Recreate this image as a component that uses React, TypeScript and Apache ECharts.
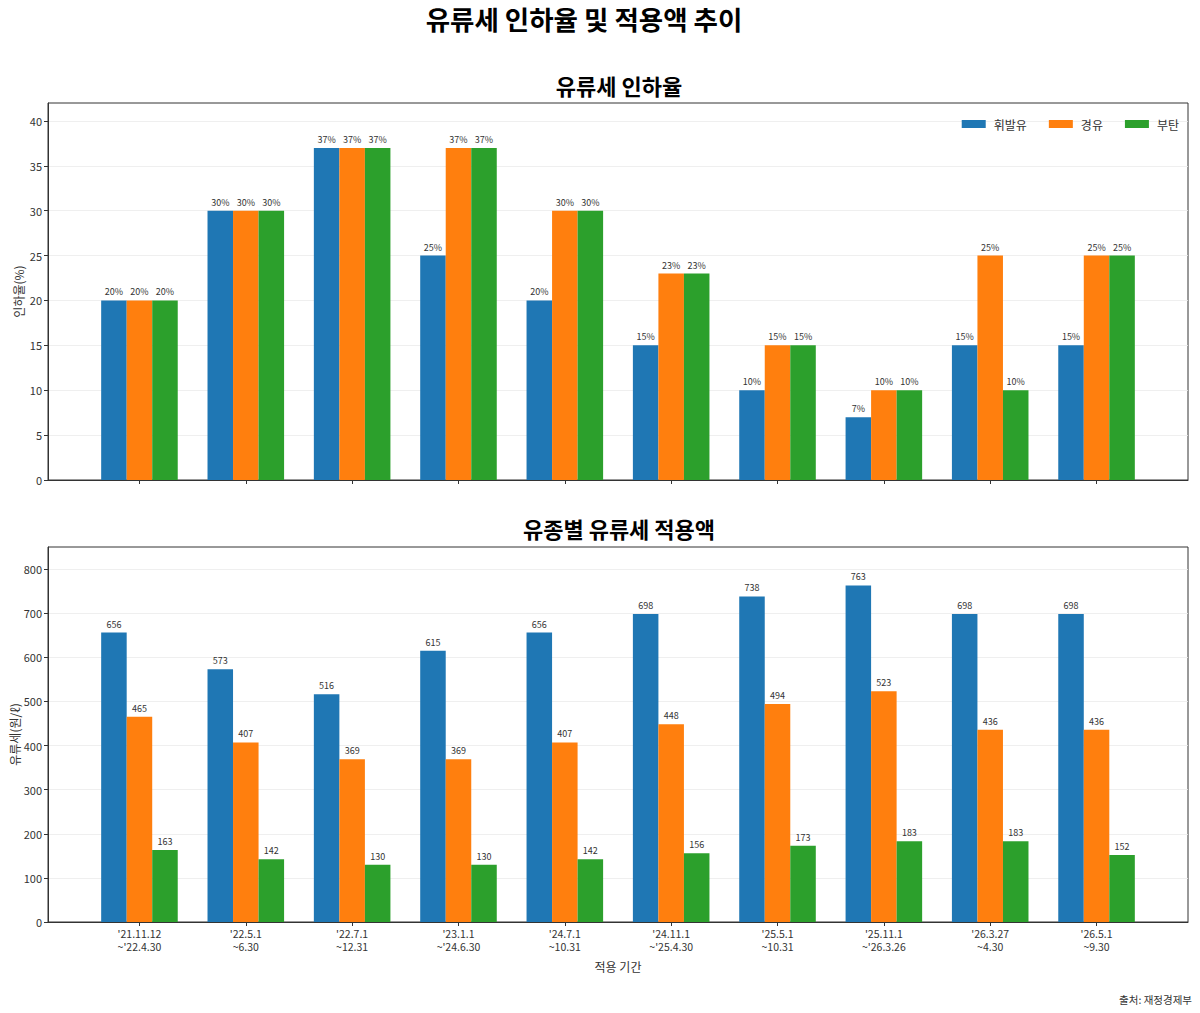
import React, { useEffect, useRef } from "react";
import * as echarts from "echarts";

const periods = [
  "'21.11.12\n~'22.4.30",
  "'22.5.1\n~6.30",
  "'22.7.1\n~12.31",
  "'23.1.1\n~'24.6.30",
  "'24.7.1\n~10.31",
  "'24.11.1\n~'25.4.30",
  "'25.5.1\n~10.31",
  "'25.11.1\n~'26.3.26",
  "'26.3.27\n~4.30",
  "'26.5.1\n~9.30",
];
const fuels = ["휘발유", "경유", "부탄"];
const colors = ["#1f77b4", "#ff7f0e", "#2ca02c"];

const rateGasoline = [20, 30, 37, 25, 20, 15, 10, 7, 15, 15];
const rateDiesel = [20, 30, 37, 37, 30, 23, 15, 10, 25, 25];
const rateButane = [20, 30, 37, 37, 30, 23, 15, 10, 10, 25];

const amtGasoline = [656, 573, 516, 615, 656, 698, 738, 763, 698, 698];
const amtDiesel = [465, 407, 369, 369, 407, 448, 494, 523, 436, 436];
const amtButane = [163, 142, 130, 130, 142, 156, 173, 183, 183, 152];

const rateTicks = [0, 5, 10, 15, 20, 25, 30, 35, 40];
const amtTicks = [0, 100, 200, 300, 400, 500, 600, 700, 800];

const FONT = "'Noto Sans CJK KR', 'Noto Sans', sans-serif";
const BAR_FRAC = 0.24;

export default function App() {
  const ref = useRef<HTMLDivElement>(null);
  useEffect(() => {
    if (!ref.current) return;
    const chart = echarts.init(ref.current, undefined, { renderer: "svg" });
    const idx = periods.map((_, i) => i);

    const xAxisBase = (gridIndex: number, showLabels: boolean) => ({
      type: "value",
      gridIndex,
      min: -0.86,
      max: 9.86,
      splitLine: { show: false },
      axisLine: { show: true, onZero: false, lineStyle: { color: "#333" } },
      axisTick: {
        show: true,
        length: 4,
        customValues: idx,
        lineStyle: { color: "#333" },
      },
      axisLabel: {
        show: showLabels,
        customValues: idx,
        formatter: (v: number) => periods[Math.round(v)] ?? "",
        fontSize: 10.5,
        lineHeight: 13,
        color: "#333",
        margin: 5,
        fontFamily: FONT,
      },
      name: showLabels ? "적용 기간" : "",
      nameLocation: "middle",
      nameGap: 38,
      nameMoveOverlap: false,
      nameTextStyle: { fontSize: 12, color: "#333", fontFamily: FONT },
    });

    const yAxisBase = (gridIndex: number, max: number, ticks: number[], name: string, nameGap: number) => ({
      type: "value",
      gridIndex,
      min: 0,
      max,
      axisLine: { show: true, onZero: false, lineStyle: { color: "#333" } },
      axisTick: { show: true, length: 4, customValues: ticks, lineStyle: { color: "#333" } },
      axisLabel: {
        customValues: ticks,
        fontSize: 11,
        color: "#333",
        margin: 6,
        fontFamily: FONT,
      },
      splitLine: { show: true, lineStyle: { color: "#ebebeb", width: 0.8 } },
      interval: ticks[1] - ticks[0],
      name,
      nameLocation: "middle",
      nameGap,
      nameMoveOverlap: false,
      nameTextStyle: { fontSize: 12, color: "#333", fontFamily: FONT },
    });

    const mkSeries = (name: string, data: number[], k: number, axis: number, suffix: string) => ({
      name,
      type: "custom",
      xAxisIndex: axis,
      yAxisIndex: axis,
      itemStyle: { color: colors[k] },
      encode: { x: 0, y: 1 },
      data: data.map((v, i) => [i, v]),
      renderItem: (_params: any, api: any) => {
        const xi = api.value(0);
        const v = api.value(1);
        const unit = api.size([1, 0])[0];
        const w = unit * BAR_FRAC;
        const top = api.coord([xi, v]);
        const base = api.coord([xi, 0]);
        const cx = top[0] + (k - 1) * w;
        return {
          type: "group",
          children: [
            {
              type: "rect",
              shape: { x: cx - w / 2, y: top[1], width: w, height: base[1] - top[1] },
              style: { fill: colors[k] },
            },
            {
              type: "text",
              x: cx,
              y: top[1] - 4,
              style: {
                text: `${v}${suffix}`,
                fontSize: 9,
                fill: "#333",
                textAlign: "center",
                textVerticalAlign: "bottom",
                fontFamily: FONT,
              },
            },
          ],
        };
      },
    });

    chart.setOption({
      animation: false,
      textStyle: { fontFamily: FONT },
      grid: [
        { left: 48, right: 12, top: 103, height: 377, show: true, borderColor: "#333", borderWidth: 1, backgroundColor: "transparent", outerBoundsMode: "none", containLabel: false },
        { left: 48, right: 12, top: 547, height: 375, show: true, borderColor: "#333", borderWidth: 1, backgroundColor: "transparent", outerBoundsMode: "none", containLabel: false },
      ],
      xAxis: [xAxisBase(0, false), xAxisBase(1, true)],
      yAxis: [
        yAxisBase(0, 42, rateTicks, "인하율(%)", 24),
        yAxisBase(1, 850, amtTicks, "유류세(원/ℓ)", 28),
      ],
      legend: {
        data: fuels.map((f, k) => ({ name: f, itemStyle: { color: colors[k] } })),
        right: 16,
        top: 113,
        itemWidth: 24,
        itemHeight: 8,
        itemGap: 22,
        icon: "rect",
        textStyle: { fontSize: 12, color: "#333", fontFamily: FONT, padding: [0, 0, 0, 3] },
      },
      graphic: [
        {
          type: "text",
          x: 584,
          y: 18,
          style: {
            text: "유류세 인하율 및 적용액 추이",
            fontSize: 26.5,
            fontWeight: "bold",
            fill: "#000",
            textAlign: "center",
            textVerticalAlign: "middle",
            fontFamily: FONT,
          },
        },
        {
          type: "text",
          x: 619,
          y: 85,
          style: {
            text: "유류세 인하율",
            fontSize: 22,
            fontWeight: "bold",
            fill: "#000",
            textAlign: "center",
            textVerticalAlign: "middle",
            fontFamily: FONT,
          },
        },
        {
          type: "text",
          x: 619,
          y: 528,
          style: {
            text: "유종별 유류세 적용액",
            fontSize: 22,
            fontWeight: "bold",
            fill: "#000",
            textAlign: "center",
            textVerticalAlign: "middle",
            fontFamily: FONT,
          },
        },
        {
          type: "text",
          x: 1192,
          y: 999,
          style: {
            text: "출처: 재정경제부",
            fontSize: 10.5,
            fill: "#333",
            textAlign: "right",
            textVerticalAlign: "middle",
            fontFamily: FONT,
          },
        },
      ],
      series: [
        mkSeries(fuels[0], rateGasoline, 0, 0, "%"),
        mkSeries(fuels[1], rateDiesel, 1, 0, "%"),
        mkSeries(fuels[2], rateButane, 2, 0, "%"),
        mkSeries(fuels[0], amtGasoline, 0, 1, ""),
        mkSeries(fuels[1], amtDiesel, 1, 1, ""),
        mkSeries(fuels[2], amtButane, 2, 1, ""),
      ],
    });
    return () => chart.dispose();
  }, []);

  return (
    <div
      ref={ref}
      style={{ position: "fixed", left: 0, top: 0, width: 1200, height: 1013, background: "#fff" }}
    />
  );
}
